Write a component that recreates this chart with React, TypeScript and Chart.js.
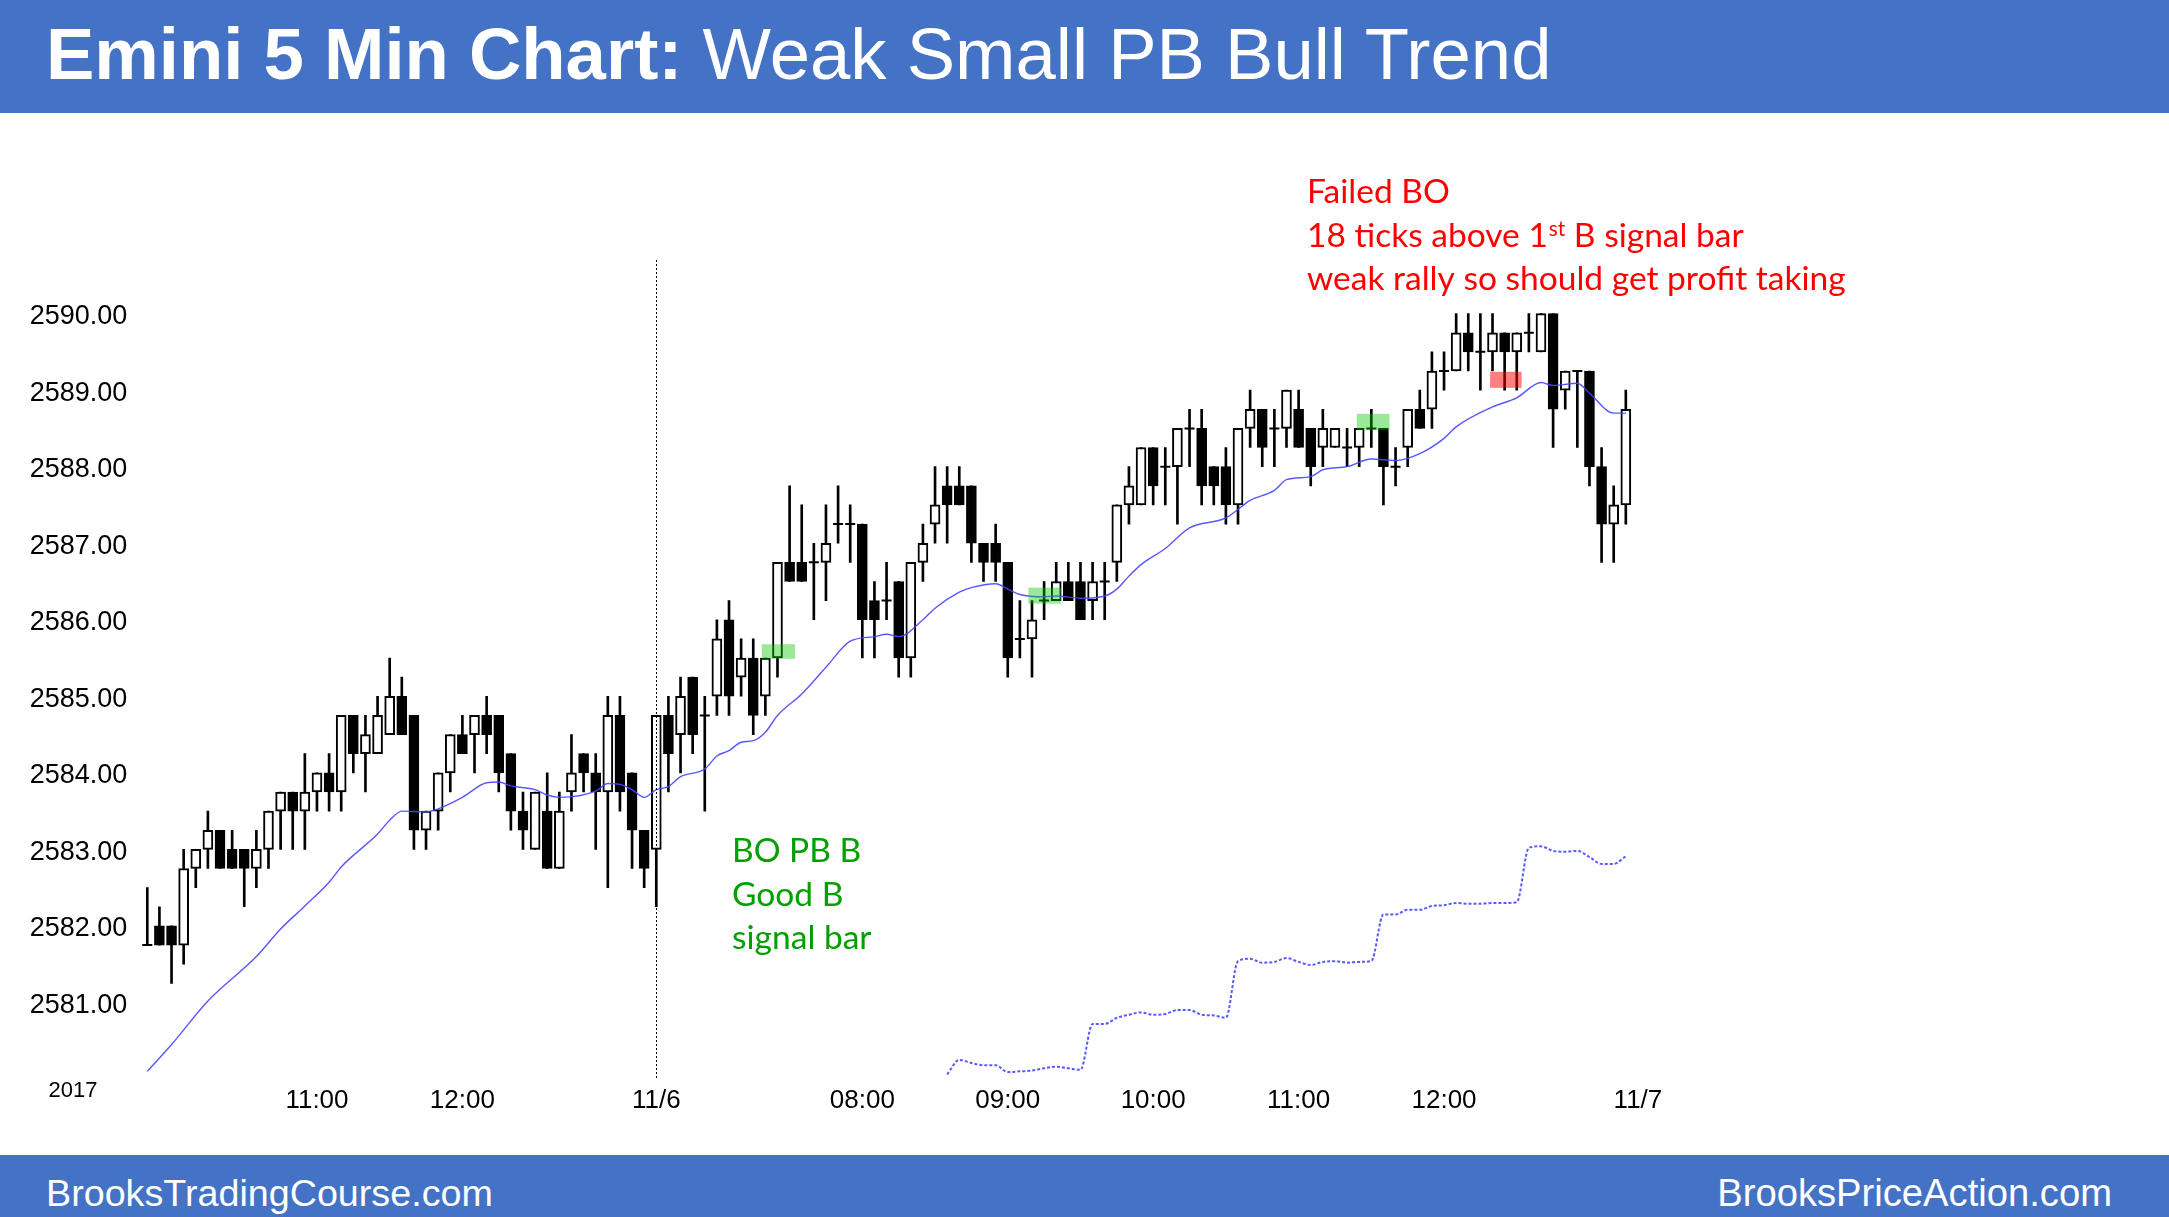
import React, { useEffect, useRef } from 'react';
import { Chart, registerables } from 'chart.js';

Chart.register(...registerables);

// ---------------- DATA ----------------
const OPEN = [
  2581.75, 2582.0, 2582.0, 2581.75, 2582.75, 2583.0, 2583.25, 2583.0, 2583.0, 2582.75,
  2583.0, 2583.5, 2583.75, 2583.5, 2583.75, 2584.0, 2583.75, 2584.75, 2584.25, 2584.25,
  2584.5, 2585.0, 2584.75, 2583.25, 2583.5, 2584.0, 2584.5, 2584.5, 2584.75, 2584.75,
  2584.25, 2583.5, 2583.0, 2583.5, 2582.75, 2583.75, 2584.25, 2584.0, 2583.75, 2584.75,
  2584.0, 2583.25, 2583.0, 2584.75, 2584.5, 2585.25, 2584.75, 2585.0, 2586.0, 2585.25,
  2585.5, 2585.0, 2585.5, 2586.75, 2586.75, 2586.75, 2586.75, 2587.25, 2587.25, 2587.25,
  2586.25, 2586.25, 2586.5, 2585.5, 2586.75, 2587.25, 2587.75, 2587.75, 2587.75, 2587.0,
  2587.0, 2586.75, 2585.75, 2585.75, 2586.25, 2586.25, 2586.5, 2586.5, 2586.25, 2586.5,
  2586.75, 2587.5, 2587.5, 2588.25, 2588.0, 2588.0, 2588.5, 2588.5, 2588.0, 2588.0,
  2587.5, 2588.5, 2588.75, 2588.5, 2588.5, 2588.75, 2588.5, 2588.25, 2588.25, 2588.25,
  2588.25, 2588.5, 2588.5, 2588.0, 2588.25, 2588.75, 2588.75, 2589.25, 2589.25, 2589.75,
  2589.5, 2589.5, 2589.75, 2589.5, 2589.75, 2589.5, 2590.0, 2589.0, 2589.25, 2589.25,
  2588.0, 2587.25, 2587.5,
];
const HIGH = [
  2582.5, 2582.25, 2582.0, 2583.0, 2583.0, 2583.5, 2583.25, 2583.25, 2583.0, 2583.25,
  2583.5, 2583.75, 2583.75, 2584.25, 2584.0, 2584.25, 2584.75, 2584.75, 2584.75, 2585.0,
  2585.5, 2585.25, 2584.75, 2583.5, 2584.0, 2584.5, 2584.75, 2584.75, 2585.0, 2584.75,
  2584.25, 2583.75, 2583.75, 2584.0, 2583.75, 2584.5, 2584.25, 2584.25, 2585.0, 2585.0,
  2584.0, 2583.25, 2584.75, 2585.0, 2585.25, 2585.25, 2585.0, 2586.0, 2586.25, 2585.75,
  2585.75, 2585.5, 2586.75, 2587.75, 2587.5, 2587.0, 2587.5, 2587.75, 2587.5, 2587.25,
  2586.5, 2586.75, 2586.5, 2586.75, 2587.25, 2588.0, 2588.0, 2588.0, 2587.75, 2587.0,
  2587.25, 2586.75, 2586.25, 2586.25, 2586.5, 2586.75, 2586.75, 2586.75, 2586.75, 2586.75,
  2587.5, 2588.0, 2588.25, 2588.25, 2588.25, 2588.5, 2588.75, 2588.75, 2588.0, 2588.25,
  2588.5, 2589.0, 2588.75, 2588.75, 2589.0, 2589.0, 2588.5, 2588.75, 2588.5, 2588.5,
  2588.5, 2588.75, 2588.5, 2588.25, 2588.75, 2589.0, 2589.5, 2589.5, 2590.0, 2590.0,
  2590.0, 2590.0, 2589.75, 2589.75, 2590.0, 2590.0, 2590.0, 2589.25, 2589.25, 2589.25,
  2588.25, 2587.75, 2589.0,
];
const LOW = [
  2581.75, 2581.75, 2581.25, 2581.5, 2582.5, 2582.75, 2582.75, 2582.75, 2582.25, 2582.5,
  2582.75, 2583.0, 2583.0, 2583.0, 2583.5, 2583.5, 2583.5, 2584.0, 2583.75, 2584.25,
  2584.5, 2584.5, 2583.0, 2583.0, 2583.25, 2583.75, 2584.25, 2584.0, 2584.25, 2583.75,
  2583.25, 2583.0, 2583.0, 2582.75, 2582.75, 2583.5, 2583.75, 2583.0, 2582.5, 2583.5,
  2582.75, 2582.5, 2582.25, 2583.75, 2584.0, 2584.25, 2583.5, 2584.75, 2584.75, 2585.0,
  2584.5, 2584.75, 2585.25, 2586.5, 2586.5, 2586.0, 2586.25, 2587.0, 2586.75, 2585.5,
  2585.5, 2586.0, 2585.25, 2585.25, 2586.5, 2587.0, 2587.0, 2587.5, 2586.75, 2586.5,
  2586.5, 2585.25, 2585.5, 2585.25, 2586.0, 2586.25, 2586.25, 2586.0, 2586.0, 2586.0,
  2586.5, 2587.25, 2587.5, 2587.5, 2587.5, 2587.25, 2588.0, 2587.5, 2587.5, 2587.25,
  2587.25, 2588.25, 2588.0, 2588.0, 2588.25, 2588.25, 2587.75, 2588.0, 2588.25, 2588.0,
  2588.0, 2588.25, 2587.5, 2587.75, 2588.0, 2588.5, 2588.5, 2589.0, 2589.25, 2589.25,
  2589.0, 2589.25, 2589.0, 2589.0, 2589.5, 2589.5, 2588.25, 2588.75, 2588.25, 2587.75,
  2586.75, 2586.75, 2587.25,
];
const CLOSE = [
  2581.75, 2581.75, 2581.75, 2582.75, 2583.0, 2583.25, 2582.75, 2582.75, 2582.75, 2583.0,
  2583.5, 2583.75, 2583.5, 2583.75, 2584.0, 2583.75, 2584.75, 2584.25, 2584.5, 2584.75,
  2585.0, 2584.5, 2583.25, 2583.5, 2584.0, 2584.5, 2584.25, 2584.75, 2584.5, 2584.0,
  2583.5, 2583.25, 2583.75, 2582.75, 2583.5, 2584.0, 2584.0, 2583.75, 2584.75, 2583.75,
  2583.25, 2582.75, 2584.75, 2584.25, 2585.0, 2584.5, 2584.75, 2585.75, 2585.0, 2585.5,
  2584.75, 2585.5, 2586.75, 2586.5, 2586.5, 2586.75, 2587.0, 2587.25, 2587.25, 2586.0,
  2586.0, 2586.25, 2585.5, 2586.75, 2587.0, 2587.5, 2587.5, 2587.5, 2587.0, 2586.75,
  2586.75, 2585.5, 2585.75, 2586.0, 2586.25, 2586.5, 2586.25, 2586.0, 2586.5, 2586.5,
  2587.5, 2587.75, 2588.25, 2587.75, 2588.0, 2588.5, 2588.5, 2587.75, 2587.75, 2587.5,
  2588.5, 2588.75, 2588.25, 2588.5, 2589.0, 2588.25, 2588.0, 2588.5, 2588.5, 2588.25,
  2588.5, 2588.5, 2588.0, 2588.0, 2588.75, 2588.5, 2589.25, 2589.25, 2589.75, 2589.5,
  2589.5, 2589.75, 2589.5, 2589.75, 2589.75, 2590.0, 2588.75, 2589.25, 2589.25, 2588.0,
  2587.25, 2587.5, 2588.75,
];

// 20-bar EMA at these bar indices
const EMA_BARS = [
  0, 2, 5, 9, 11, 13, 15, 16, 19, 20, 21, 23, 24, 26, 28, 29, 30, 32, 33, 34, 37, 38, 39, 40, 41,
  42, 43, 44, 46, 47, 48, 49, 50, 51, 52, 54, 56, 58, 60, 61, 62, 64, 65, 67, 68, 70, 71, 72, 74,
  75, 77, 79, 80, 81, 82, 84, 86, 89, 91, 93, 94, 96, 97, 99, 101, 103, 105, 107, 108, 111, 113,
  115, 116, 118, 119, 121, 122,
];
const EMA_VALUES = [
  2580.1, 2580.45, 2581.02, 2581.6, 2581.96, 2582.26, 2582.57, 2582.77, 2583.2, 2583.38, 2583.5,
  2583.49, 2583.53, 2583.68, 2583.87, 2583.88, 2583.83, 2583.78, 2583.71, 2583.68, 2583.76, 2583.86,
  2583.85, 2583.78, 2583.68, 2583.78, 2583.82, 2583.95, 2584.05, 2584.22, 2584.29, 2584.4, 2584.42,
  2584.53, 2584.75, 2585.03, 2585.38, 2585.72, 2585.78, 2585.81, 2585.78, 2586.0, 2586.15, 2586.36,
  2586.42, 2586.47, 2586.4, 2586.33, 2586.3, 2586.31, 2586.28, 2586.31, 2586.4, 2586.57, 2586.72,
  2586.93, 2587.2, 2587.33, 2587.56, 2587.69, 2587.83, 2587.87, 2587.96, 2588.0, 2588.1, 2588.08,
  2588.17, 2588.37, 2588.52, 2588.78, 2588.9, 2589.1, 2589.06, 2589.09, 2588.96, 2588.7, 2588.7,
];

// dotted blue indicator, starting at bar 66
const IND_FIRST_BAR = 66;
const IND_VALUES = [
  2580.06, 2580.25, 2580.21, 2580.18, 2580.18, 2580.09, 2580.1, 2580.11, 2580.14, 2580.16,
  2580.14, 2580.12, 2580.72, 2580.72, 2580.8, 2580.84, 2580.87, 2580.84, 2580.85, 2580.9,
  2580.9, 2580.84, 2580.83, 2580.8, 2581.54, 2581.57, 2581.52, 2581.53, 2581.58, 2581.53,
  2581.49, 2581.53, 2581.54, 2581.52, 2581.53, 2581.54, 2582.15, 2582.15, 2582.21, 2582.21,
  2582.26, 2582.27, 2582.3, 2582.29, 2582.29, 2582.3, 2582.3, 2582.31, 2583.02, 2583.04,
  2582.98, 2582.97, 2582.98, 2582.9, 2582.81, 2582.81, 2582.91,
];

// categories (5-min bar times)
function sessionTimes(day: string, sh: number, sm: number, eh: number, em: number): string[] {
  const out: string[] = [];
  for (let t = sh * 60 + sm; t <= eh * 60 + em; t += 5) {
    const h = Math.floor(t / 60), m = t % 60;
    out.push(`${day} ${String(h).padStart(2, '0')}:${String(m).padStart(2, '0')}`);
  }
  return out;
}
const CATEGORIES = [
  ...sessionTimes('11/3', 9, 50, 13, 15),
  ...sessionTimes('11/6', 6, 35, 13, 15),
  '11/7 06:35',
];
const X_TICK_TEXT: Record<string, string> = {
  '11/3 11:00': '11:00',
  '11/3 12:00': '12:00',
  '11/6 06:35': '11/6',
  '11/6 08:00': '08:00',
  '11/6 09:00': '09:00',
  '11/6 10:00': '10:00',
  '11/6 11:00': '11:00',
  '11/6 12:00': '12:00',
  '11/7 06:35': '11/7',
};
const DAY_BREAK = '11/6 06:35';
const Y_MIN = 2580;
const Y_MAX = 2590.7;
const Y_LABEL_FIRST = 2581;
const Y_LABEL_LAST = 2590;

// signal-bar highlight boxes (bar index span, price span)
const HL_FROM = [50.7, 72.7, 99.8, 110.8];
const HL_TO = [53.45, 75.4, 102.5, 113.4];
const HL_LOW = [2585.49, 2586.21, 2588.48, 2589.03];
const HL_HIGH = [2585.68, 2586.42, 2588.69, 2589.24];
const HL_SIDE = ['buy', 'buy', 'buy', 'sell'];

const TITLE_BOLD = 'Emini 5 Min Chart:';
const TITLE_REST = ' Weak Small PB Bull Trend';
const FOOTER_LEFT = 'BrooksTradingCourse.com';
const FOOTER_RIGHT = 'BrooksPriceAction.com';
const RED_NOTE_1 = 'Failed BO';
const RED_NOTE_2 = ['18 ticks above 1', 'st', ' B signal bar'];
const RED_NOTE_3 = 'weak rally so should get profit taking';
const GREEN_NOTE = ['BO PB B', 'Good B', 'signal bar'];
const YEAR_LABEL = '2017';

// ---------------- STYLE ----------------
const W = 2169;
const H = 1217;
const BLUE = '#4472C4';
const AXIS_FONT = '"Liberation Sans", Arial, sans-serif';
const NOTE_FONT = 'Lato, "Open Sans", sans-serif';

const notesPlugin = {
  id: 'notes',
  afterDatasetsDraw(chart: any) {
    const { ctx, chartArea, scales } = chart;
    const x = scales.x, y = scales.y;
    ctx.save();
    // day separator
    const sx = Math.round(x.getPixelForValue(CATEGORIES.indexOf(DAY_BREAK))) + 0.5;
    ctx.strokeStyle = '#000';
    ctx.lineWidth = 1;
    ctx.setLineDash([2, 2]);
    ctx.beginPath();
    ctx.moveTo(sx, chartArea.top);
    ctx.lineTo(sx, chartArea.bottom);
    ctx.stroke();
    ctx.setLineDash([]);
    // highlight boxes
    for (let i = 0; i < HL_FROM.length; i++) {
      const x0 = x.getPixelForValue(HL_FROM[i]);
      const x1 = x.getPixelForValue(HL_TO[i]);
      const y0 = y.getPixelForValue(HL_HIGH[i]);
      const y1 = y.getPixelForValue(HL_LOW[i]);
      ctx.fillStyle = HL_SIDE[i] === 'buy' ? 'rgba(0,200,0,0.4)' : 'rgba(255,0,0,0.5)';
      ctx.fillRect(x0, y0, x1 - x0, y1 - y0);
    }
    ctx.restore();
  },
  afterDraw(chart: any) {
    const { ctx } = chart;
    ctx.save();
    // fit note font to reference width
    ctx.font = `100px ${NOTE_FONT}`;
    const size = (100 * 539) / ctx.measureText(RED_NOTE_3).width;
    const main = `${size}px ${NOTE_FONT}`;
    const sup = `${size * 0.62}px ${NOTE_FONT}`;
    ctx.textBaseline = 'alphabetic';
    ctx.textAlign = 'left';
    ctx.fillStyle = '#FF0000';
    ctx.font = main;
    const rx = 1307;
    ctx.fillText(RED_NOTE_1, rx, 203);
    let cx = rx;
    ctx.fillText(RED_NOTE_2[0], cx, 247);
    cx += ctx.measureText(RED_NOTE_2[0]).width;
    ctx.font = sup;
    ctx.fillText(RED_NOTE_2[1], cx + 1, 247 - size * 0.34);
    cx += ctx.measureText(RED_NOTE_2[1]).width + 1;
    ctx.font = main;
    ctx.fillText(RED_NOTE_2[2], cx, 247);
    ctx.fillText(RED_NOTE_3, rx, 290);
    ctx.fillStyle = 'rgb(0,160,0)';
    GREEN_NOTE.forEach((t, i) => ctx.fillText(t, 732, 862 + i * 43.5));
    // year label
    ctx.fillStyle = '#000';
    ctx.font = `22px ${AXIS_FONT}`;
    ctx.textAlign = 'center';
    ctx.textBaseline = 'middle';
    ctx.fillText(YEAR_LABEL, 73, 1091);
    ctx.restore();
  },
};

export default function App() {
  const ref = useRef<HTMLCanvasElement>(null);

  useEffect(() => {
    const canvas = ref.current;
    if (!canvas) return;
    const n = OPEN.length;
    const isDoji = (i: number) => OPEN[i] === CLOSE[i];
    const bodies = OPEN.map((o, i) => (isDoji(i) ? null : [o, CLOSE[i]]));
    const bodyColors = OPEN.map((o, i) => (CLOSE[i] > o ? '#FFFFFF' : '#000000'));
    const wicks = LOW.map((l, i) => [l, HIGH[i]]);
    const dojis = OPEN.map((o, i) => (isDoji(i) ? o : null));
    const ema: (number | null)[] = new Array(n).fill(null);
    EMA_BARS.forEach((b, k) => (ema[b] = EMA_VALUES[k]));
    const ind: (number | null)[] = new Array(n).fill(null);
    IND_VALUES.forEach((v, k) => (ind[IND_FIRST_BAR + k] = v));

    const chart = new Chart(canvas, {
      type: 'bar',
      data: {
        labels: CATEGORIES,
        datasets: [
          {
            type: 'line',
            data: ema as any,
            borderColor: 'rgba(70,70,255,0.9)',
            borderWidth: 1.4,
            pointRadius: 0,
            spanGaps: true,
            cubicInterpolationMode: 'monotone',
            order: 0,
          } as any,
          {
            type: 'line',
            data: ind as any,
            borderColor: 'rgba(60,60,255,0.85)',
            borderWidth: 2,
            borderDash: [3, 2],
            pointRadius: 0,
            spanGaps: true,
            cubicInterpolationMode: 'monotone',
            order: 0,
          } as any,
          {
            type: 'line',
            data: dojis as any,
            showLine: false,
            pointStyle: 'line',
            pointRadius: 5,
            pointBorderWidth: 2,
            pointBorderColor: '#000',
            pointBackgroundColor: '#000',
            order: 1,
          } as any,
          {
            type: 'bar',
            data: bodies as any,
            backgroundColor: bodyColors,
            borderColor: '#000',
            borderWidth: 2,
            borderSkipped: false,
            barThickness: 10,
            grouped: false,
            order: 2,
          } as any,
          {
            type: 'bar',
            data: wicks as any,
            backgroundColor: '#000',
            borderWidth: 0,
            barThickness: 2,
            grouped: false,
            order: 3,
          } as any,
        ],
      },
      options: {
        responsive: false,
        maintainAspectRatio: false,
        devicePixelRatio: 1,
        animation: false,
        events: [],
        layout: { padding: { left: 0, right: 525, top: 260, bottom: 98 } },
        plugins: { legend: { display: false }, tooltip: { enabled: false } },
        scales: {
          x: {
            type: 'category',
            offset: true,
            grid: { display: false, drawTicks: false },
            border: { display: false },
            afterFit: (s: any) => {
              s.height = 40;
            },
            ticks: {
              autoSkip: false,
              maxRotation: 0,
              minRotation: 0,
              padding: 6,
              color: '#000',
              font: { family: AXIS_FONT, size: 26 },
              callback: function (this: any, v: any) {
                return X_TICK_TEXT[this.getLabelForValue(v)] ?? '';
              },
            },
          },
          y: {
            type: 'linear',
            min: Y_MIN,
            max: Y_MAX,
            grid: { display: false, drawTicks: false },
            border: { display: false },
            afterFit: (s: any) => {
              s.width = 141.24;
            },
            ticks: {
              stepSize: 1,
              padding: 14,
              labelOffset: 3,
              color: '#000',
              font: { family: AXIS_FONT, size: 27 },
              callback: (v: any) =>
                Number.isInteger(v) && v >= Y_LABEL_FIRST && v <= Y_LABEL_LAST ? Number(v).toFixed(2) : '',
            },
          },
        },
      },
      plugins: [notesPlugin],
    } as any);
    return () => chart.destroy();
  }, []);

  return (
    <div style={{ position: 'absolute', left: 0, top: 0, width: W, height: H, overflow: 'hidden', background: '#fff' }}>
      <canvas ref={ref} width={W} height={H} style={{ position: 'absolute', left: 0, top: 0, width: W, height: H }} />
      <div style={{ position: 'absolute', left: 0, top: 0, width: W, height: 113, background: BLUE }}>
        <div
          style={{
            position: 'absolute',
            left: 46,
            top: 18,
            fontFamily: AXIS_FONT,
            fontSize: 72.5,
            lineHeight: '72px',
            color: '#fff',
            whiteSpace: 'nowrap',
          }}
        >
          <span style={{ fontWeight: 'bold' }}>{TITLE_BOLD}</span>
          <span>{TITLE_REST}</span>
        </div>
      </div>
      <div style={{ position: 'absolute', left: 0, top: 1155, width: W, height: H - 1155, background: BLUE }}>
        <div
          style={{
            position: 'absolute',
            left: 46,
            top: 19,
            fontFamily: AXIS_FONT,
            fontSize: 37.7,
            lineHeight: '38px',
            color: '#fff',
            whiteSpace: 'nowrap',
          }}
        >
          {FOOTER_LEFT}
        </div>
        <div
          style={{
            position: 'absolute',
            right: 57,
            top: 19,
            fontFamily: AXIS_FONT,
            fontSize: 38.2,
            lineHeight: '38px',
            color: '#fff',
            whiteSpace: 'nowrap',
          }}
        >
          {FOOTER_RIGHT}
        </div>
      </div>
    </div>
  );
}
